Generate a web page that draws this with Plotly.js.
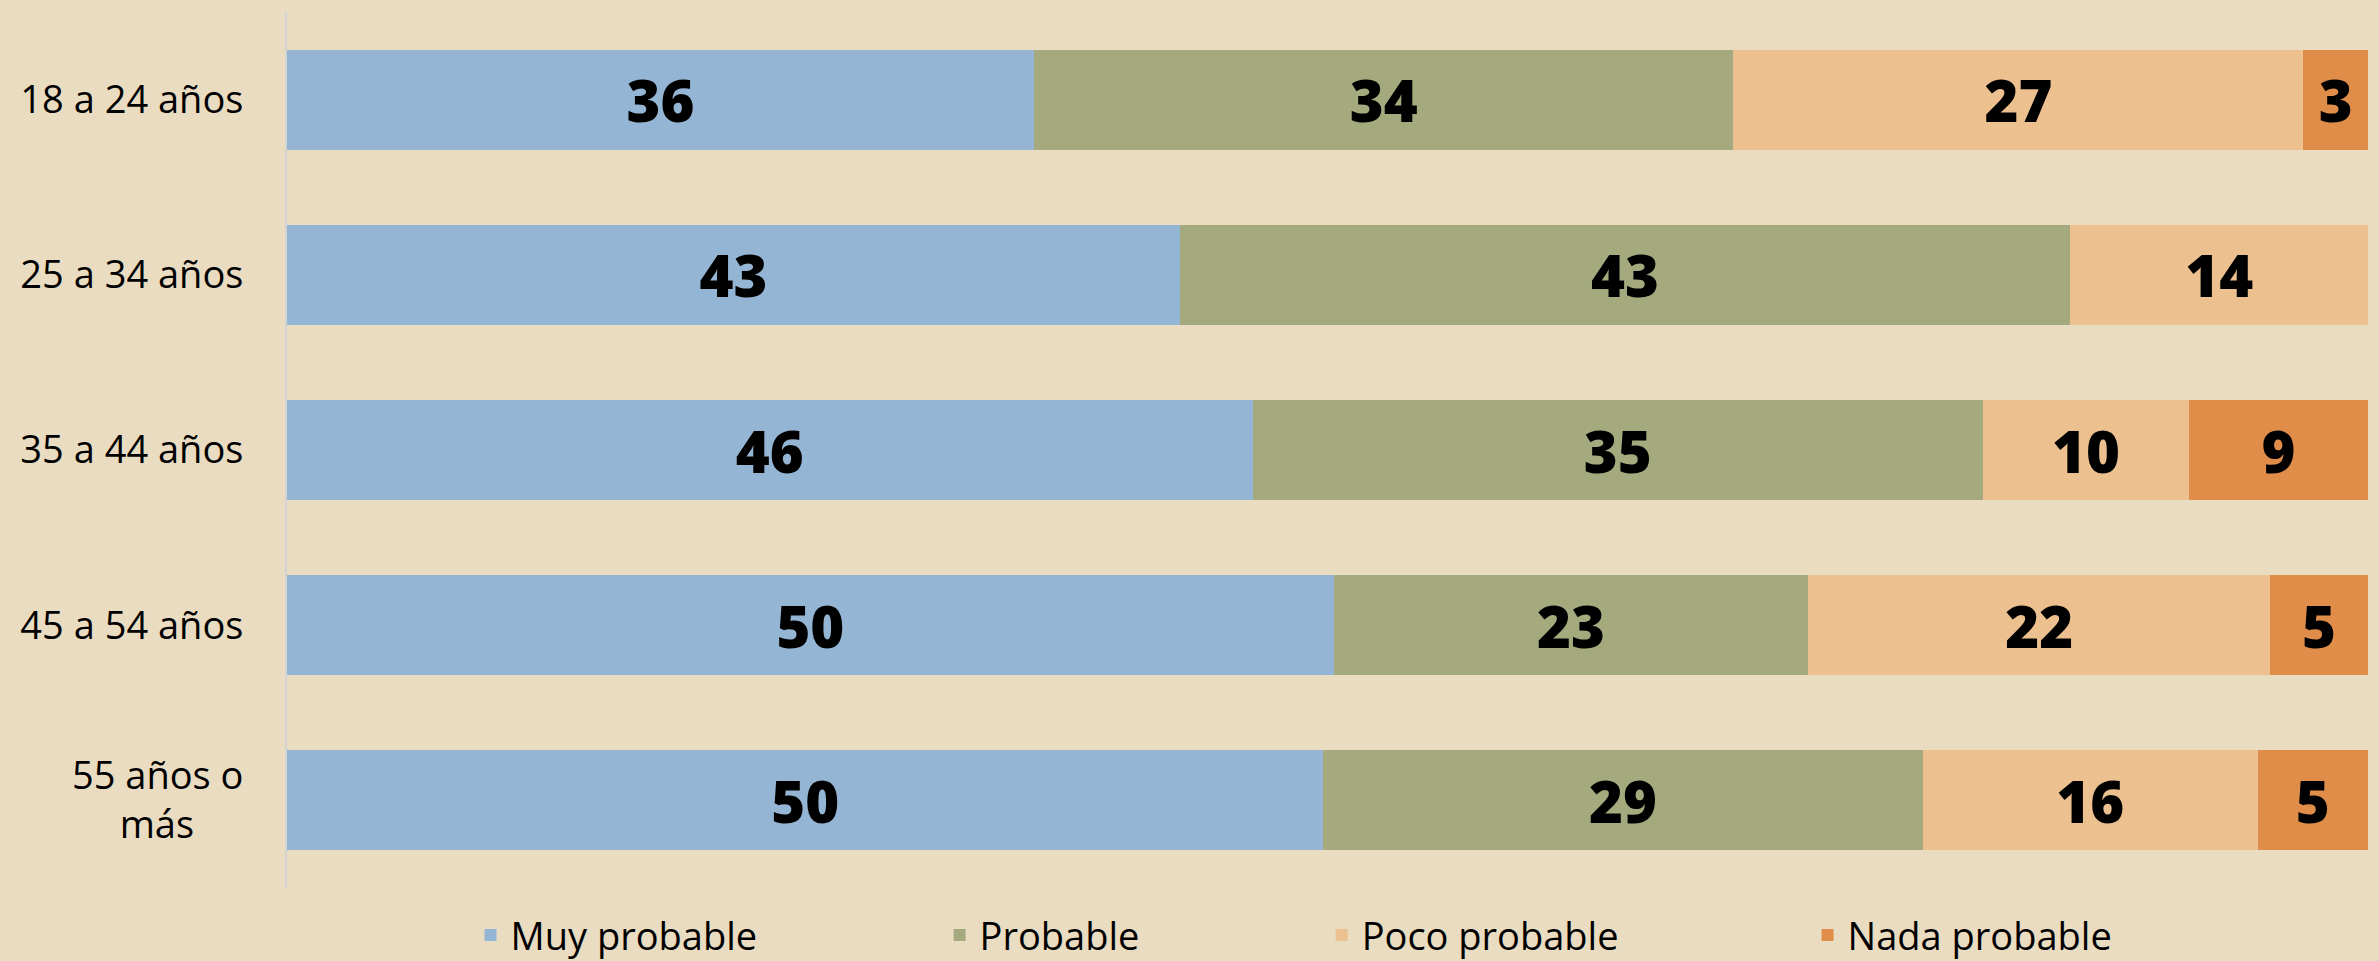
<!DOCTYPE html>
<html>
<head>
<meta charset="utf-8">
<script src="https://cdn.plot.ly/plotly-3.0.1.min.js"></script>
<style>
  html, body { margin: 0; padding: 0; background: #EADCC1; }
  #chart { width: 2379px; height: 961px; }
</style>
</head>
<body>
<div id="chart"></div>
<script>
// Age groups (top to bottom)
const categories = ["18 a 24 años", "25 a 34 años", "35 a 44 años", "45 a 54 años", "55 años o<br>más\u00A0\u00A0\u00A0\u00A0\u00A0"];

// Series (percent)
const muyProbable  = [35.9, 42.9, 46.4, 50.3, 49.8];
const probable     = [33.6, 42.8, 35.1, 22.8, 28.8];
const pocoProbable = [27.4, 14.3,  9.9, 22.2, 16.1];
const nadaProbable = [ 3.1, null,  8.6,  4.7,  5.3];

const seriesNames  = ["Muy probable", "Probable", "Poco probable", "Nada probable"];
const seriesValues = [muyProbable, probable, pocoProbable, nadaProbable];
const seriesColors = ["#94B5D3", "#A4AA7E", "#EDC08F", "#E08D4A"];
const legendIds    = ["legend", "legend2", "legend3", "legend4"];
const legendX      = [0.0882, 0.3136, 0.4972, 0.7307];

const FONT = "'Open Sans', 'Noto Sans', sans-serif";

const traces = seriesNames.map((name, i) => ({
  type: "bar",
  orientation: "h",
  name: name,
  y: categories,
  x: seriesValues[i],
  marker: { color: seriesColors[i], line: { width: 0 } },
  texttemplate: "%{x:.0f}",
  textposition: "inside",
  insidetextanchor: "middle",
  textangle: 0,
  constraintext: "none",
  insidetextfont: { family: FONT, size: 58, color: "#000000", weight: 800 },
  hoverinfo: "x+y+name",
  legend: legendIds[i]
}));

const legendBase = (x) => ({
  orientation: "h",
  x: x,
  xanchor: "left",
  y: -0.054,
  yanchor: "middle",
  bgcolor: "rgba(0,0,0,0)",
  borderwidth: 0,
  font: { family: FONT, size: 38, color: "#000000" },
  itemwidth: 30
});

const layout = {
  width: 2379,
  height: 961,
  paper_bgcolor: "#EADCC1",
  plot_bgcolor: "#EADCC1",
  barmode: "stack",
  bargap: 0.43,
  margin: { l: 287, r: 11, t: 12, b: 73, autoexpand: false },
  showlegend: true,
  legend: legendBase(legendX[0]),
  legend2: legendBase(legendX[1]),
  legend3: legendBase(legendX[2]),
  legend4: legendBase(legendX[3]),
  xaxis: {
    range: [0, 100],
    showgrid: false,
    zeroline: false,
    showticklabels: false,
    showline: false,
    fixedrange: true
  },
  yaxis: {
    type: "category",
    autorange: "reversed",
    showgrid: false,
    zeroline: false,
    showline: true,
    linecolor: "#D3D3D3",
    linewidth: 2,
    ticks: "",
    ticklabelstandoff: 34,
    tickfont: { family: FONT, size: 38, color: "#000000" },
    fixedrange: true
  }
};

Plotly.newPlot("chart", traces, layout, { displayModeBar: false, staticPlot: true });
</script>
</body>
</html>
